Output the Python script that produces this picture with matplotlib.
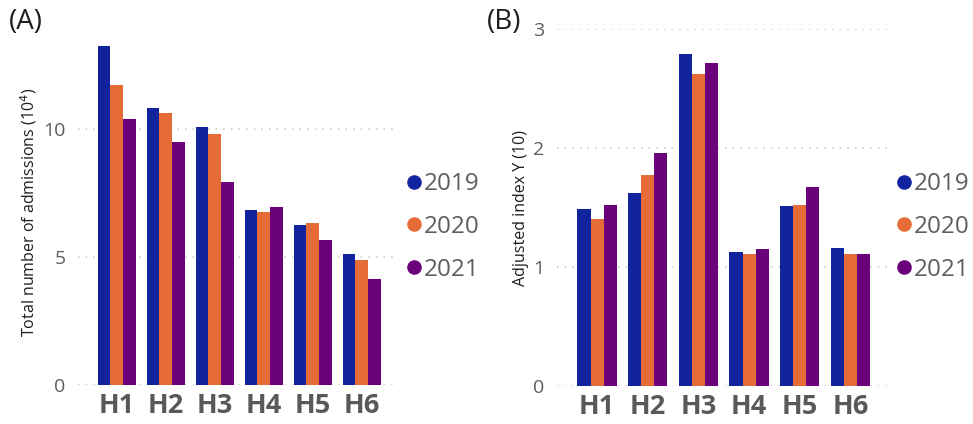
import matplotlib
matplotlib.use("Agg")
import matplotlib.pyplot as plt
from matplotlib.lines import Line2D
import numpy as np

plt.rcParams['font.family'] = ['Open Sans', 'DejaVu Sans']

categories = ["H1", "H2", "H3", "H4", "H5", "H6"]
years = ["2019", "2020", "2021"]
colors = ["#12239E", "#E66C37", "#6B007B"]

admissions_2019 = [13.24, 10.81, 10.08, 6.84, 6.24, 5.13]
admissions_2020 = [11.73, 10.61, 9.80, 6.76, 6.32, 4.87]
admissions_2021 = [10.39, 9.50, 7.94, 6.95, 5.65, 4.14]

index_2019 = [1.49, 1.62, 2.79, 1.125, 1.51, 1.16]
index_2020 = [1.40, 1.77, 2.62, 1.106, 1.52, 1.106]
index_2021 = [1.52, 1.96, 2.72, 1.15, 1.67, 1.106]

W, H = 973, 424
fig = plt.figure(figsize=(W / 100, H / 100), dpi=100)

def px_axes(x0, x1, ytop, ybot):
    return fig.add_axes([x0 / W, (H - ybot) / H, (x1 - x0) / W, (ybot - ytop) / H])

tick_color = "#605E5C"
label_color = "#595959"

def draw_panel(ax, series, yticks, ylim, ylabel, xlim, legend_anchor):
    x = np.arange(len(categories))
    bw = 0.258
    for i, (vals, c) in enumerate(zip(series, colors)):
        ax.bar(x + (i - 1) * bw, vals, width=bw, color=c, edgecolor="none", zorder=3)
    ax.set_xlim(*xlim)
    ax.set_ylim(*ylim)
    ax.set_yticks(yticks)
    ax.set_yticklabels([str(t) for t in yticks])
    ax.set_xticks(x)
    ax.set_xticklabels(categories, fontsize=19.5, fontweight="bold", color=label_color)
    ax.tick_params(axis="y", length=0, pad=9, labelsize=14, labelcolor=tick_color)
    ax.tick_params(axis="x", length=0, pad=6)
    for s in ax.spines.values():
        s.set_visible(False)
    ax.grid(axis="y", linestyle=(0, (1, 4)), color="#C8C6C4", linewidth=1.1, zorder=0)
    ax.set_axisbelow(True)
    ax.set_ylabel(ylabel, fontsize=11.5, color="#201F1E", labelpad=3)
    handles = [Line2D([0], [0], marker="o", linestyle="none", markersize=10.5,
                      markerfacecolor=c, markeredgecolor="none") for c in colors]
    leg = fig.legend(handles, years, loc="center left",
                     bbox_to_anchor=(legend_anchor[0] / W, (H - legend_anchor[1]) / H),
                     frameon=False, fontsize=17.5, handletextpad=-0.1,
                     labelspacing=0.78, handlelength=1.0, borderpad=0, borderaxespad=0)
    for t in leg.get_texts():
        t.set_color(tick_color)

axA = px_axes(78, 398, 40, 385)
draw_panel(axA, [admissions_2019, admissions_2020, admissions_2021], [0, 5, 10],
           (0, 13.48), "Total number of admissions (10$^4$)", (-0.79, 5.74), (402, 227))

axB = px_axes(557, 892, 29.3, 385.7)
draw_panel(axB, [index_2019, index_2020, index_2021], [0, 1, 2, 3],
           (0, 3.0), "Adjusted index Y (10)", (-0.79, 5.82), (892, 227))

fig.text(9 / W, (H - 22) / H, "(A)", fontsize=20, color="#201F1E", va="center", ha="left")
fig.text(487 / W, (H - 22) / H, "(B)", fontsize=20, color="#201F1E", va="center", ha="left")

fig.savefig("out.png", dpi=100)
